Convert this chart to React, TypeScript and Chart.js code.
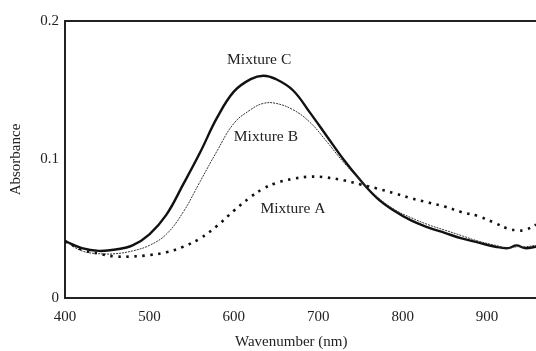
import React, { useEffect, useRef } from "react";
import { Chart, registerables } from "chart.js";

Chart.register(...registerables);

const wavelengths = [400, 420, 440, 460, 480, 500, 520, 540, 560, 580, 600, 620, 635, 650, 670, 690, 710, 730, 750, 770, 790, 810, 830, 850, 870, 890, 910, 925, 935, 945, 958];
const mixtureC = [0.041, 0.036, 0.034, 0.035, 0.038, 0.046, 0.060, 0.082, 0.105, 0.130, 0.149, 0.158, 0.1605, 0.158, 0.150, 0.134, 0.117, 0.100, 0.085, 0.072, 0.063, 0.056, 0.051, 0.047, 0.043, 0.040, 0.037, 0.036, 0.038, 0.036, 0.037];
const mixtureB = [0.041, 0.034, 0.032, 0.032, 0.034, 0.038, 0.046, 0.062, 0.084, 0.106, 0.126, 0.136, 0.1405, 0.1405, 0.136, 0.127, 0.113, 0.098, 0.085, 0.073, 0.064, 0.058, 0.053, 0.049, 0.045, 0.041, 0.038, 0.036, 0.037, 0.037, 0.038];
const mixtureA = [0.041, 0.035, 0.032, 0.030, 0.030, 0.031, 0.033, 0.037, 0.043, 0.052, 0.063, 0.073, 0.079, 0.083, 0.086, 0.0876, 0.087, 0.085, 0.082, 0.079, 0.0757, 0.072, 0.069, 0.066, 0.062, 0.059, 0.054, 0.050, 0.049, 0.049, 0.053];

const xTicks = [400, 500, 600, 700, 800, 900];
const yTicks = [0, 0.1, 0.2];

const labels = [
  { text: "Mixture C", x: 630, y: 0.172 },
  { text: "Mixture B", x: 638, y: 0.116 },
  { text: "Mixture A", x: 670, y: 0.064 },
];
const xTitle = { text: "Wavenumber (nm)", x: 668 };

const FONT = "'Liberation Serif', 'Times New Roman', serif";
const INK = "#222";

function pts(ys: number[]) {
  return wavelengths.map((x, i) => ({ x, y: ys[i] }));
}

const framePlugin = {
  id: "frameAndLabels",
  afterDatasetsDraw(chart: any) {
    const { ctx, chartArea, scales, height } = chart;
    ctx.save();
    ctx.strokeStyle = INK;
    ctx.lineWidth = 2;
    ctx.beginPath();
    ctx.moveTo(chartArea.left, chartArea.top);
    ctx.lineTo(chartArea.right, chartArea.top);
    ctx.stroke();
    ctx.fillStyle = INK;
    ctx.font = `15.5px ${FONT}`;
    ctx.textAlign = "center";
    ctx.textBaseline = "middle";
    labels.forEach((l) => {
      ctx.fillText(l.text, scales.x.getPixelForValue(l.x), scales.y.getPixelForValue(l.y));
    });
    ctx.font = `15px ${FONT}`;
    ctx.textBaseline = "middle";
    ctx.fillText(xTitle.text, scales.x.getPixelForValue(xTitle.x), height - 9);
    ctx.restore();
  },
};

export default function App() {
  const ref = useRef<HTMLCanvasElement | null>(null);
  useEffect(() => {
    if (!ref.current) return;
    const chart = new Chart(ref.current, {
      type: "line",
      data: {
        datasets: [
          {
            label: "Mixture A",
            data: pts(mixtureA),
            borderColor: "#111",
            borderWidth: 2.6,
            borderDash: [2.5, 5.5],
            pointRadius: 0,
            tension: 0.4,
            fill: false,
          },
          {
            label: "Mixture B",
            data: pts(mixtureB),
            borderColor: "#333",
            borderWidth: 1,
            borderDash: [2, 1],
            pointRadius: 0,
            tension: 0.4,
            fill: false,
          },
          {
            label: "Mixture C",
            data: pts(mixtureC),
            borderColor: "#111",
            borderWidth: 2.4,
            pointRadius: 0,
            tension: 0.4,
            fill: false,
          },
        ],
      },
      options: {
        responsive: false,
        animation: false,
        devicePixelRatio: 1,
        layout: { padding: { top: 21, right: 0, left: 0, bottom: 0 } },
        plugins: { legend: { display: false }, tooltip: { enabled: false } },
        scales: {
          x: {
            type: "linear",
            min: 400,
            max: 958,
            grid: { display: false, drawTicks: false },
            border: { display: true, color: INK, width: 2 },
            afterBuildTicks: (s: any) => {
              s.ticks = xTicks.map((v) => ({ value: v }));
            },
            afterFit: (s: any) => {
              s.height = 53;
            },
            ticks: {
              includeBounds: false,
              padding: 10,
              color: INK,
              font: { family: FONT, size: 15 },
              maxRotation: 0,
              callback: (v: any) => String(v),
            },
            title: { display: false },
          },
          y: {
            type: "linear",
            min: 0,
            max: 0.2,
            grid: { display: false, drawTicks: false },
            border: { display: true, color: INK, width: 2 },
            afterBuildTicks: (s: any) => {
              s.ticks = yTicks.map((v) => ({ value: v }));
            },
            afterFit: (s: any) => {
              s.width = 65;
            },
            ticks: {
              padding: 6,
              color: INK,
              font: { family: FONT, size: 15 },
              callback: (v: any) => String(v),
            },
            title: {
              display: true,
              text: "Absorbance",
              color: INK,
              font: { family: FONT, size: 15 },
              padding: { top: 7, bottom: 0 },
            },
          },
        },
      },
      plugins: [framePlugin],
    });
    return () => chart.destroy();
  }, []);
  return (
    <div style={{ position: "absolute", left: 0, top: 0, width: 536, height: 351, background: "#fff" }}>
      <canvas ref={ref} width={536} height={351} />
    </div>
  );
}
